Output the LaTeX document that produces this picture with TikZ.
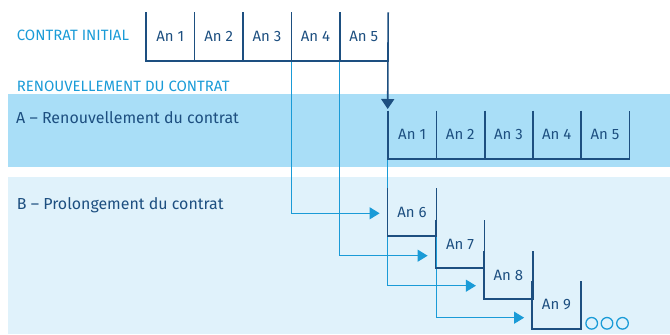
\documentclass[tikz,border=0pt]{standalone}
\usepackage{fontspec}
\setmainfont{Fira Sans}
\usetikzlibrary{arrows.meta}
\definecolor{navy}{HTML}{1D4F80}
\definecolor{sky}{HTML}{1A9BD7}
\definecolor{bandA}{HTML}{A9DEF7}
\definecolor{bandB}{HTML}{E0F2FB}
\tikzset{
  cell/.style={minimum width=48.4bp, minimum height=48bp, inner sep=0pt, text=navy, font=\fontsize{15}{17}\selectfont},
  boxline/.style={draw=navy, line width=1.6bp},
  link/.style={draw=sky, line width=1bp, -{Triangle[length=10bp,width=12bp]}},
  caplbl/.style={anchor=base west, inner sep=0pt, text=sky, font=\fontsize{15}{17}\selectfont},
  bandlbl/.style={anchor=base west, inner sep=0pt, text=navy, font=\fontsize{16}{18}\selectfont},
  dot/.style={circle, draw=sky, line width=1.3bp, minimum size=11.6bp, inner sep=0pt}
}
\begin{document}
\begin{tikzpicture}[x=1bp,y=-1bp]
\useasboundingbox (0,0) rectangle (670,334);
\fill[bandA] (8,94) rectangle (670,167);
\fill[bandB] (8,177) rectangle (670,334);

% labels
\node[caplbl] (lci) at (16.7,40) {CONTRAT INITIAL};
\node[caplbl] (lrc) at (16.7,91.7) {RENOUVELLEMENT DU CONTRAT};
\node[bandlbl] (la) at (16,123.3) {A – Renouvellement du contrat};
\node[bandlbl] (lb) at (16.7,209) {B – Prolongement du contrat};

% initial contract
\foreach \i in {1,...,5}{
  \node[cell] (i\i) at ({146+48.4*(\i-0.5)},36.5) {An \i};
}
% renewal
\foreach \i in {1,...,5}{
  \node[cell] (r\i) at ({388+48.2*(\i-0.5)},134.7) {An \i};
}
% prolongation
\node[cell] (b6) at (412,212) {An 6};
\node[cell] (b7) at (460,244) {An 7};
\node[cell] (b8) at (508.3,275) {An 8};
\node[cell] (b9) at (556.5,305) {An 9};

% thin links
\draw[link] (i4.south west) |- ([xshift=-8bp,yshift=-1.3bp]b6.west);
\draw[link] (i5.south west) |- ([xshift=-8bp,yshift=-11.7bp]b7.west);
\draw[link] (r1.south west) |- ([xshift=-8bp,yshift=-10.7bp]b8.west);
\draw[link] (b6.south east) |- ([xshift=-8bp,yshift=-12.7bp]b9.west);

% initial contract frame
\draw[boxline] (i1.north west) -- (i1.south west) -- (i5.south east);
\foreach \i in {1,...,4}{ \draw[boxline] (i\i.north east) -- (i\i.south east); }
\draw[boxline, -{Triangle[length=10bp,width=13bp]}] (i5.north east) -- ([yshift=1.5bp]r1.north west);

% renewal frame
\draw[boxline] (r1.north west) -- (r1.south west) -- (r5.south east) -- (r5.north east);
\foreach \i in {1,...,4}{ \draw[boxline] (r\i.north east) -- (r\i.south east); }

% prolongation boxes
\foreach \b in {b6,b7,b8,b9}{
  \draw[boxline] (\b.north west) -- (\b.south west) -- (\b.south east) -- (\b.north east);
}

% dots
\node[dot] (d1) at (591.7,323.3) {};
\node[dot] (d2) at (607,323.3) {};
\node[dot] (d3) at (622.5,323.3) {};
\end{tikzpicture}
\end{document}
